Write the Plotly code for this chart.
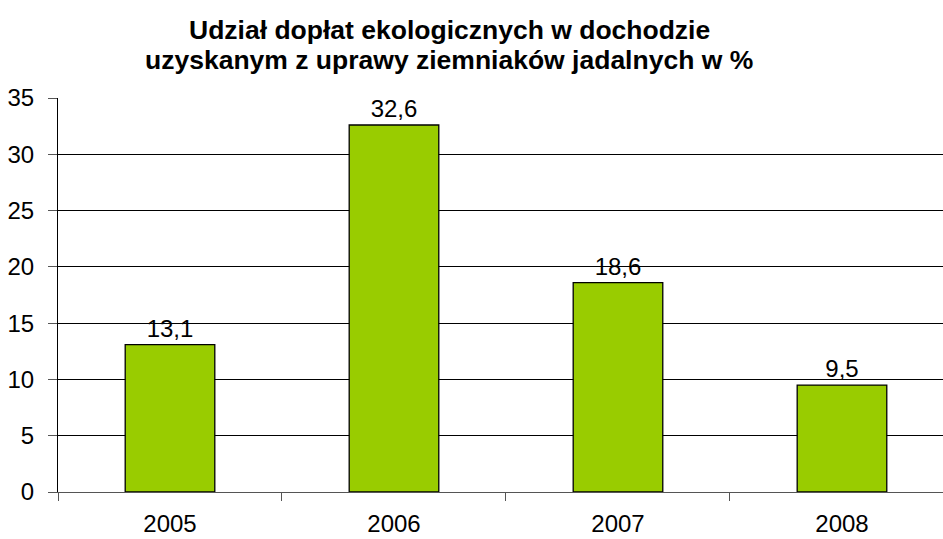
import plotly.graph_objects as go

years = ["2005", "2006", "2007", "2008"]
values = [13.1, 32.6, 18.6, 9.5]
labels = ["13,1", "32,6", "18,6", "9,5"]
y_ticks = [0, 5, 10, 15, 20, 25, 30, 35]
title_lines = ["Udział dopłat ekologicznych w dochodzie",
               "uzyskanym z uprawy ziemniaków jadalnych w %"]

FONT = "Liberation Sans, Arial"

fig = go.Figure(go.Bar(
    x=years, y=values, text=labels, textposition="outside",
    textfont=dict(size=24, color="black", family=FONT),
    marker=dict(color="#99CC00", line=dict(color="black", width=1.3)),
    width=0.4, cliponaxis=False, hoverinfo="skip",
))

# plot area: 58..943 px horizontally, 98..492 px vertically
plot_top, plot_bottom = 98, 492
plot_h = plot_bottom - plot_top
for line, ypix in zip(title_lines, [30, 60]):
    fig.add_annotation(
        text="<b>" + line + "</b>", xref="paper", yref="paper",
        x=(449 - 58) / 885, y=(plot_bottom - ypix) / plot_h,
        xanchor="center", yanchor="middle", showarrow=False,
        font=dict(size=26.5, color="black", family=FONT),
    )

fig.update_layout(
    width=943, height=539,
    margin=dict(l=58, r=0, t=plot_top, b=539 - plot_bottom),
    paper_bgcolor="white", plot_bgcolor="white",
    font=dict(family=FONT, size=24, color="black"),
    showlegend=False,
    bargap=0.6,
)
fig.update_xaxes(
    type="category", range=[-0.5, 3.451], automargin=False,
    showline=True, linecolor="#555", linewidth=1,
    ticks="outside", tickson="boundaries", ticklen=8, tickcolor="#555",
    showgrid=False, tickfont=dict(size=24), ticklabelstandoff=10,
)
fig.update_yaxes(
    range=[0, 35], tickvals=y_ticks, automargin=False,
    showline=True, linecolor="black", linewidth=1,
    ticks="outside", ticklen=9, tickcolor="#555",
    showgrid=True, gridcolor="black", gridwidth=1,
    tickfont=dict(size=24), zeroline=False, ticklabelstandoff=9,
)

fig.write_html("out.html", config={"displayModeBar": False},
               post_script="document.body.style.margin='0';")
